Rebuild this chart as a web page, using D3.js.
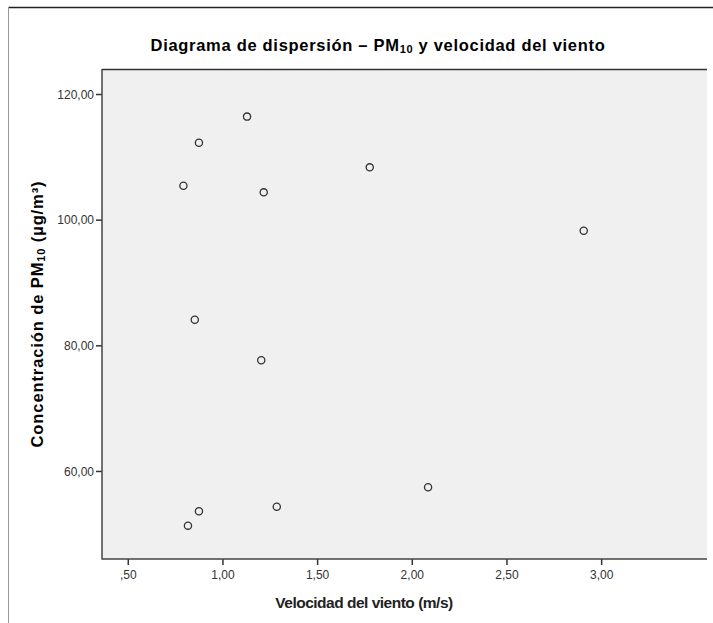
<!DOCTYPE html>
<html>
<head>
<meta charset="utf-8">
<script src="https://cdn.jsdelivr.net/npm/d3@7"></script>
<style>
  html, body { margin: 0; padding: 0; background: #ffffff; }
  svg { display: block; font-family: "Liberation Sans", Arial, sans-serif; }
</style>
</head>
<body>
<div id="chart"></div>
<script>
// Data
const windSpeed = [1.13, 0.876, 0.794, 1.218, 1.778, 2.908, 0.854, 1.205, 2.086, 1.287, 0.876, 0.818];
const pm10      = [116.4, 112.25, 105.4, 104.35, 108.33, 98.24, 84.08, 77.62, 57.4, 54.3, 53.6, 51.3];
const xTicks = [0.5, 1.0, 1.5, 2.0, 2.5, 3.0];
const xTickLabels = [",50", "1,00", "1,50", "2,00", "2,50", "3,00"];
const yTicks = [60, 80, 100, 120];
const yTickLabels = ["60,00", "80,00", "100,00", "120,00"];
const xDomain = [0.364, 3.559];
const yDomain = [45.99, 123.98];

const W = 713, H = 623;
const plot = { left: 102, top: 69, right: 707, bottom: 559 };

const svg = d3.select("#chart").append("svg").attr("width", W).attr("height", H);

// Outer frame lines
svg.append("line").attr("x1", 8.5).attr("x2", W).attr("y1", 7.5).attr("y2", 7.5)
  .attr("stroke", "#222").attr("stroke-width", 1.5);
svg.append("line").attr("x1", 8.5).attr("x2", 8.5).attr("y1", 7).attr("y2", H)
  .attr("stroke", "#999").attr("stroke-width", 1);

const x = d3.scaleLinear().domain(xDomain).range([plot.left, plot.right]);
const y = d3.scaleLinear().domain(yDomain).range([plot.bottom, plot.top]);

// Plot background
svg.append("rect")
  .attr("x", plot.left).attr("y", plot.top)
  .attr("width", plot.right - plot.left).attr("height", plot.bottom - plot.top)
  .attr("fill", "#f0f0f0");

// Top border
svg.append("line").attr("x1", plot.left).attr("x2", plot.right)
  .attr("y1", plot.top + 0.5).attr("y2", plot.top + 0.5)
  .attr("stroke", "#333").attr("stroke-width", 1.5);

// Axes
const xAxis = d3.axisBottom(x).tickValues(xTicks)
  .tickFormat((d, i) => xTickLabels[i]).tickSize(6).tickPadding(5);
const yAxis = d3.axisLeft(y).tickValues(yTicks)
  .tickFormat((d, i) => yTickLabels[i]).tickSize(6).tickPadding(2);

const gx = svg.append("g").attr("transform", `translate(0,${plot.bottom})`).call(xAxis);
const gy = svg.append("g").attr("transform", `translate(${plot.left},0)`).call(yAxis);

[gx, gy].forEach(g => {
  g.select(".domain").remove();
  g.selectAll(".tick line").attr("stroke", "#333").attr("stroke-width", 1.5);
  g.selectAll(".tick text").attr("fill", "#333").style("font-size", "12px")
    .style("font-family", "'Liberation Sans', Arial, sans-serif");
});
gy.selectAll(".tick text").attr("dy", "0.35em");

// Left and bottom axis lines
svg.append("line").attr("x1", plot.left).attr("x2", plot.left)
  .attr("y1", plot.top).attr("y2", plot.bottom + 0.5)
  .attr("stroke", "#444").attr("stroke-width", 1.5);
svg.append("line").attr("x1", plot.left).attr("x2", plot.right)
  .attr("y1", plot.bottom).attr("y2", plot.bottom)
  .attr("stroke", "#444").attr("stroke-width", 1.5);

// Points
const pts = windSpeed.map((v, i) => ({ x: v, y: pm10[i] }));
svg.append("g").selectAll("circle").data(pts).join("circle")
  .attr("cx", d => x(d.x)).attr("cy", d => y(d.y))
  .attr("r", 3.6)
  .attr("fill", "none")
  .attr("stroke", "#333")
  .attr("stroke-width", 1.3);

// Title
const title = svg.append("text")
  .attr("x", 378).attr("y", 51)
  .attr("text-anchor", "middle")
  .style("font-size", "16.5px").style("font-weight", "bold")
  .style("letter-spacing", "0.7px").attr("fill", "#000");
title.append("tspan").text("Diagrama de dispersión – PM");
title.append("tspan").text("10").style("font-size", "11px").attr("dy", 2);
title.append("tspan").text(" y velocidad del viento").attr("dy", -2);

// X label
svg.append("text")
  .attr("x", 364).attr("y", 608)
  .attr("text-anchor", "middle")
  .style("font-size", "15.5px").style("font-weight", "bold")
  .style("letter-spacing", "-0.5px").attr("fill", "#222")
  .text("Velocidad del viento (m/s)");

// Y label
const yl = svg.append("text")
  .attr("transform", "translate(43,314) rotate(-90)")
  .attr("text-anchor", "middle")
  .style("font-size", "16.5px").style("font-weight", "bold")
  .style("letter-spacing", "0.9px").attr("fill", "#000");
yl.append("tspan").text("Concentración de PM");
yl.append("tspan").text("10").style("font-size", "11px").attr("dy", 2);
yl.append("tspan").text(" (µg/m³)").attr("dy", -2);
</script>
</body>
</html>
